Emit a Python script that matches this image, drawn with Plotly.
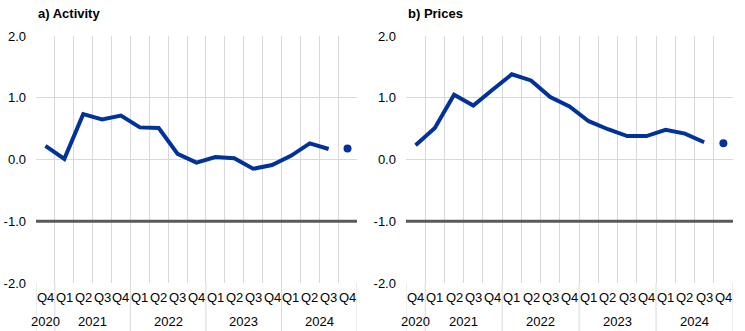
import plotly.graph_objects as go
from plotly.subplots import make_subplots

quarters = ["Q4", "Q1", "Q2", "Q3", "Q4", "Q1", "Q2", "Q3", "Q4",
            "Q1", "Q2", "Q3", "Q4", "Q1", "Q2", "Q3", "Q4"]
years = ["2020", "2021", "2021", "2021", "2021", "2022", "2022", "2022", "2022",
         "2023", "2023", "2023", "2023", "2024", "2024", "2024", "2024"]

y_ticks = [-2, -1, 0, 1, 2]
y_tick_text = ["-2.0", "-1.0", "0.0", "1.0", "2.0"]

activity = [0.22, 0.01, 0.735, 0.65, 0.71, 0.52, 0.51, 0.09, -0.05,
            0.04, 0.02, -0.15, -0.09, 0.06, 0.26, 0.17]
activity_last = 0.18

prices = [0.23, 0.51, 1.05, 0.875, 1.13, 1.38, 1.28, 1.01, 0.86,
          0.62, 0.49, 0.38, 0.38, 0.48, 0.42, 0.28]
prices_last = 0.265

titles = ["a) Activity", "b) Prices"]
blue = "#003299"
grid = "#d9d9d9"
font = "Liberation Sans, Arial, sans-serif"
fs = 13

fig = make_subplots(rows=1, cols=2)

nq = len(quarters)
xs = list(range(nq))
bounds = [i - 0.5 for i in range(nq + 1)]

# year groups: label centres and divider positions
groups = []
for i, y in enumerate(years):
    if not groups or groups[-1][0] != y:
        groups.append([y, i, i])
    else:
        groups[-1][2] = i
year_labels = [g[0] for g in groups]
year_label_pos = [(g[1] + g[2]) / 2 for g in groups]
year_dividers = [groups[0][1] - 0.5] + [g[2] + 0.5 for g in groups]

for i, (vals, last) in enumerate([(activity, activity_last), (prices, prices_last)]):
    n = len(vals)
    fig.add_trace(go.Scatter(
        x=xs[:n], y=vals, mode="lines",
        line=dict(color=blue, width=4), showlegend=False), row=1, col=i + 1)
    fig.add_trace(go.Scatter(
        x=[xs[n]], y=[last], mode="markers",
        marker=dict(color=blue, size=8), showlegend=False), row=1, col=i + 1)

domains = [[0, 0.4605], [0.5308, 1]]
for i in range(2):
    ax = "xaxis" if i == 0 else "xaxis2"
    ay = "yaxis" if i == 0 else "yaxis2"
    xref = "x" if i == 0 else "x2"
    yref = "y" if i == 0 else "y2"
    fig.layout[ax].update(
        domain=domains[i], range=[-0.5, nq - 0.5], tickvals=bounds,
        showticklabels=False, showgrid=True, gridcolor=grid, gridwidth=1,
        ticks="", showline=False, zeroline=False, automargin=False)
    fig.layout[ay].update(
        range=[-2, 2], tickvals=y_ticks, ticktext=y_tick_text,
        showgrid=True, gridcolor=grid, gridwidth=1, zeroline=False,
        tickfont=dict(family=font, size=fs, color="#000"), ticks="",
        ticklabelstandoff=9, showline=False, automargin=False)
    fig.add_shape(type="line", xref=xref + " domain", yref=yref,
                  x0=0, x1=1, y0=-1, y1=-1,
                  line=dict(color="#595959", width=3), layer="above")
    for q, x in zip(quarters, xs):
        fig.add_annotation(text=q, xref=xref, yref="paper", x=x, y=0,
                           yshift=-5, xanchor="center", yanchor="top",
                           showarrow=False,
                           font=dict(family=font, size=fs, color="#000"))
    for y, x in zip(year_labels, year_label_pos):
        fig.add_annotation(text=y, xref=xref, yref="paper", x=x, y=0,
                           yshift=-29, xanchor="center", yanchor="top",
                           showarrow=False,
                           font=dict(family=font, size=fs, color="#000"))
    for d in year_dividers:
        fig.add_shape(type="line", xref=xref, yref="paper",
                      x0=d, x1=d, y0=0, y1=-48 / 247,
                      line=dict(color=grid, width=1), layer="below")
    fig.add_annotation(text="<b>" + titles[i] + "</b>", xref=xref + " domain",
                       yref="paper", x=0, y=1, yshift=23, xanchor="left",
                       yanchor="middle", showarrow=False,
                       font=dict(family=font, size=fs, color="#000"))

fig.update_layout(
    width=745, height=331, margin=dict(l=36, r=12, t=36, b=48),
    plot_bgcolor="white", paper_bgcolor="white",
    font=dict(family=font, size=fs, color="#000"))

fig.write_html("out.html")
